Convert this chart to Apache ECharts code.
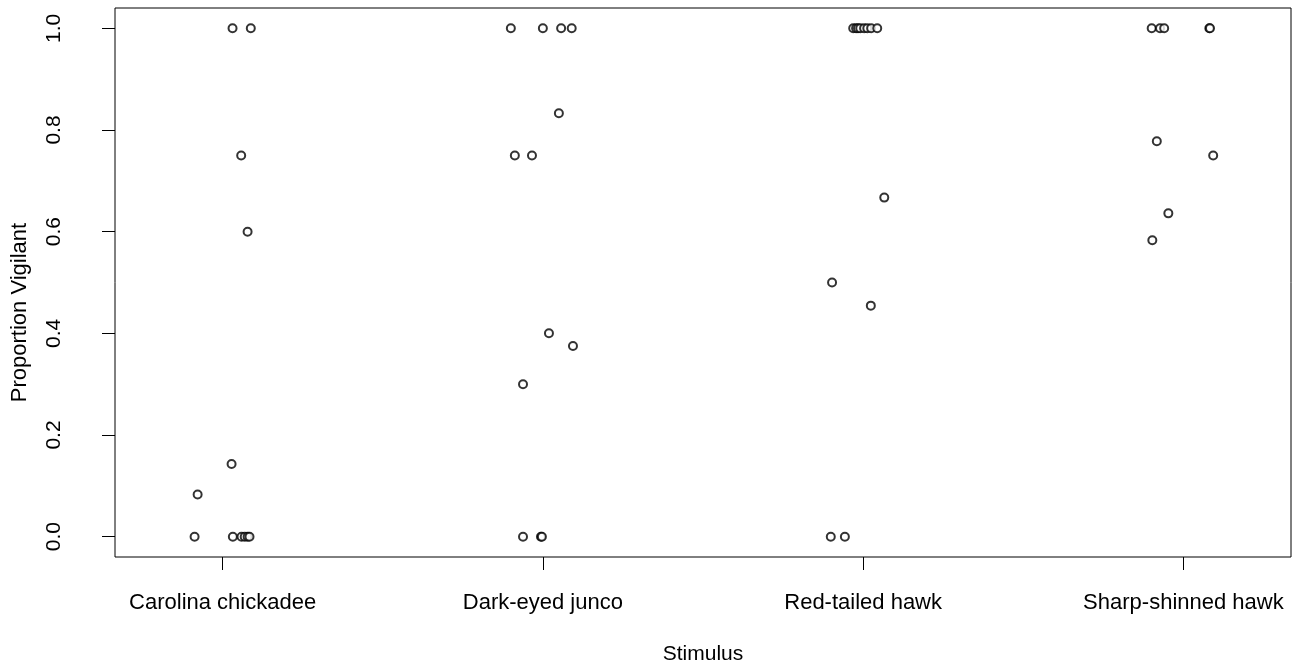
<!DOCTYPE html>
<html>
<head>
<meta charset="utf-8">
<script src="https://cdn.jsdelivr.net/npm/echarts@6/dist/echarts.min.js"></script>
<style>html,body{margin:0;padding:0;background:#fff}#c{width:1303px;height:670px}</style>
</head>
<body>
<div id="c"></div>
<script>
const categories = ["Carolina chickadee", "Dark-eyed junco", "Red-tailed hawk", "Sharp-shinned hawk"];
const yTicks = [0, 0.2, 0.4, 0.6, 0.8, 1.0];

// jittered positions (x, in category units) and proportions (y)
const chickadeeX = [1.031, 1.088, 1.058, 1.078, 1.028, 0.922, 0.9125, 1.032, 1.059, 1.069, 1.078, 1.084];
const chickadeeY = [1, 1, 0.75, 0.6, 0.143, 0.083, 0, 0, 0, 0, 0, 0];

const juncoX = [1.9, 2.0, 2.057, 2.09, 2.05, 1.9125, 1.966, 2.019, 2.094, 1.938, 1.938, 1.994, 1.997];
const juncoY = [1, 1, 1, 1, 0.833, 0.75, 0.75, 0.4, 0.375, 0.3, 0, 0, 0];

const redTailX = [2.969, 2.978, 2.984, 2.991, 3.003, 3.013, 3.025, 3.044, 3.066, 2.903, 3.024, 2.899, 2.943];
const redTailY = [1, 1, 1, 1, 1, 1, 1, 1, 0.667, 0.5, 0.4545, 0, 0];

const sharpX = [3.901, 3.927, 3.94, 4.081, 4.083, 3.917, 4.093, 3.953, 3.903];
const sharpY = [1, 1, 1, 1, 1, 0.778, 0.75, 0.636, 0.583];

const groupsX = [chickadeeX, juncoX, redTailX, sharpX];
const groupsY = [chickadeeY, juncoY, redTailY, sharpY];
const points = [];
groupsX.forEach((xs, g) => xs.forEach((x, i) => points.push([x, groupsY[g][i]])));

const font = "Liberation Sans, Arial, sans-serif";
const chart = echarts.init(document.getElementById('c'));
chart.setOption({
  animation: false,
  backgroundColor: '#fff',
  grid: { left: 115, right: 12, top: 8, bottom: 113, show: true, borderColor: '#000', borderWidth: 1, backgroundColor: 'transparent' },
  xAxis: {
    type: 'value', min: 0.664, max: 4.336,
    splitLine: { show: false },
    axisLine: { show: false, onZero: false },
    axisTick: { show: true, length: 13, inside: false, customValues: [1, 2, 3, 4], lineStyle: { color: '#000', width: 1 } },
    axisLabel: { customValues: [1, 2, 3, 4], formatter: v => categories[Math.round(v) - 1] || '', fontFamily: font, fontSize: 22, color: '#000', margin: 35 },
    name: 'Stimulus', nameLocation: 'middle', nameGap: 87,
    nameTextStyle: { fontFamily: font, fontSize: 21, color: '#000' }
  },
  yAxis: {
    type: 'value', min: -0.04, max: 1.04,
    splitLine: { show: false },
    axisLine: { show: false, onZero: false },
    axisTick: { show: true, length: 13, inside: false, customValues: yTicks, lineStyle: { color: '#000', width: 1 } },
    axisLabel: { customValues: yTicks, formatter: v => v.toFixed(1), rotate: 90, fontFamily: font, fontSize: 21, color: '#000', margin: 50 },
    name: 'Proportion Vigilant', nameLocation: 'middle', nameGap: 84,
    nameTextStyle: { fontFamily: font, fontSize: 22, color: '#000', padding: [0, 60, 0, 0] }
  },
  series: [{
    type: 'scatter',
    data: points,
    symbol: 'emptyCircle',
    symbolSize: 8,
    itemStyle: { color: '#000', borderColor: '#000', borderWidth: 1.1 }
  }]
});
</script>
</body>
</html>
